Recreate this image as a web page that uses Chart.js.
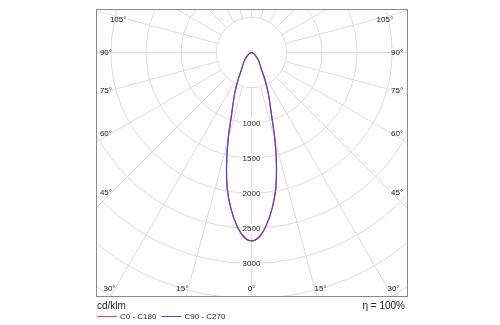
<!DOCTYPE html>
<html>
<head>
<meta charset="utf-8">
<script src="https://cdn.jsdelivr.net/npm/chart.js@4.4.0/dist/chart.umd.min.js"></script>
<style>
  html, body { margin: 0; padding: 0; background: #fff; }
  #wrap { width: 500px; height: 325px; }
</style>
</head>
<body>
<div id="wrap"><canvas id="polarChart" width="500" height="325"></canvas></div>
<script>
// Luminous intensity (cd/klm) by gamma angle, 0° = straight down
const gammaAngles = [0, 2.5, 5, 7.5, 10, 12.5, 15, 17.5, 20, 22.5, 25, 27.5, 30, 35, 40, 45, 50, 55, 60, 65, 70, 75, 80, 85, 90];
const intensityC0C180 = [2680, 2620, 2460, 2240, 1980, 1640, 1290, 960, 760, 620, 490, 380, 290, 210, 160, 120, 85, 60, 40, 25, 15, 8, 4, 2, 0];
const intensityC90C270 = [2680, 2620, 2460, 2240, 1980, 1640, 1290, 960, 760, 620, 490, 380, 290, 210, 160, 120, 85, 60, 40, 25, 15, 8, 4, 2, 0];
const seriesNames = ['C0 - C180', 'C90 - C270'];
const seriesColors = ['#e0485e', '#5646c8'];

// grid rings and labels
const ringValues = [500, 1000, 1500, 2000, 2500, 3000, 3500, 4000, 4500];
const ringLabels = [1000, 1500, 2000, 2500, 3000];
const angleTicks = [0, 15, 30, 45, 60, 75, 90, 105];
const unitText = 'cd/klm';
const efficiencyText = 'η = 100%';

const FONT = '"Liberation Sans", Arial, sans-serif';
const rad = d => d * Math.PI / 180;

// turn a half-plane curve (left side mirrored) into x/y points
function polarToXY(values) {
  const pts = [];
  for (let i = gammaAngles.length - 1; i > 0; i--) {
    const t = rad(gammaAngles[i]);
    pts.push({ x: -values[i] * Math.sin(t), y: -values[i] * Math.cos(t) });
  }
  for (let i = 0; i < gammaAngles.length; i++) {
    const t = rad(gammaAngles[i]);
    pts.push({ x: values[i] * Math.sin(t), y: -values[i] * Math.cos(t) });
  }
  return pts;
}

const polarGrid = {
  id: 'polarGrid',
  beforeDatasetsDraw(chart) {
    const { ctx, chartArea: a, scales: { x, y } } = chart;
    const cx = x.getPixelForValue(0), cy = y.getPixelForValue(0);
    const px = v => x.getPixelForValue(v) - cx;
    const hole = px(ringValues[0]);
    const outer = px(ringValues[ringValues.length - 1]);

    ctx.save();
    ctx.beginPath();
    ctx.rect(a.left, a.top, a.right - a.left, a.bottom - a.top);
    ctx.clip();
    ctx.strokeStyle = '#dcdcdc';
    ctx.lineWidth = 1;
    ringValues.forEach(v => {
      ctx.beginPath();
      ctx.arc(cx, cy, px(v), 0, Math.PI * 2);
      ctx.stroke();
    });
    for (let deg = 0; deg < 360; deg += 15) {
      const dx = Math.sin(rad(deg)), dy = Math.cos(rad(deg));
      ctx.beginPath();
      ctx.moveTo(cx + dx * hole, cy + dy * hole);
      ctx.lineTo(cx + dx * outer, cy + dy * outer);
      ctx.stroke();
    }

    // ring values down the nadir line
    ctx.font = '8px ' + FONT;
    ctx.textAlign = 'center';
    ctx.textBaseline = 'middle';
    ringLabels.forEach(v => {
      const ly = cy + px(v);
      const w = ctx.measureText(String(v)).width;
      ctx.fillStyle = '#fff';
      ctx.fillRect(cx - w / 2 - 1, ly - 5, w + 2, 10);
      ctx.fillStyle = '#222';
      ctx.fillText(String(v), cx, ly + 0.5);
    });

    // angle labels where the spokes reach an inset box
    const box = { l: a.left + 16, r: a.right - 17, t: a.top + 10, b: a.bottom - 9 };
    angleTicks.forEach(deg => {
      [1, -1].forEach(s => {
        if (deg === 0 && s < 0) return;
        const dx = s * Math.sin(rad(deg)), dy = Math.cos(rad(deg));
        let k = Infinity;
        if (dx > 1e-6) k = Math.min(k, (box.r - cx) / dx);
        if (dx < -1e-6) k = Math.min(k, (box.l - cx) / dx);
        if (dy > 1e-6) k = Math.min(k, (box.b - cy) / dy);
        if (dy < -1e-6) k = Math.min(k, (box.t - cy) / dy);
        const lx = cx + dx * k;
        const ly = Math.max(box.t, Math.min(box.b, cy + dy * k));
        ctx.textAlign = deg === 0 ? 'center' : (s > 0 ? 'left' : 'right');
        ctx.fillStyle = '#222';
        ctx.fillText(deg + '°', lx, ly + 0.5);
      });
    });
    ctx.restore();

    ctx.save();
    ctx.strokeStyle = '#8a8a8a';
    ctx.lineWidth = 1;
    ctx.strokeRect(a.left + 0.5, a.top + 0.5, a.right - a.left - 1, a.bottom - a.top - 1);
    ctx.restore();
  },
  afterDraw(chart) {
    const { ctx, chartArea: a } = chart;
    ctx.save();
    ctx.fillStyle = '#222';
    ctx.textBaseline = 'middle';
    ctx.font = '10px ' + FONT;
    ctx.textAlign = 'left';
    ctx.fillText(unitText, a.left + 1, 306);
    ctx.textAlign = 'right';
    ctx.fillText(efficiencyText, a.right - 3, 306);

    ctx.font = '8px ' + FONT;
    ctx.textAlign = 'left';
    let lx = a.left + 1;
    chart.data.datasets.forEach(ds => {
      ctx.strokeStyle = ds.borderColor;
      ctx.lineWidth = 1;
      ctx.beginPath();
      ctx.moveTo(lx, 316.5);
      ctx.lineTo(lx + 20, 316.5);
      ctx.stroke();
      ctx.fillText(ds.label, lx + 23, 317);
      lx += 23 + ctx.measureText(ds.label).width + 5;
    });
    ctx.restore();
  }
};

new Chart(document.getElementById('polarChart'), {
  type: 'scatter',
  data: {
    datasets: [
      // C90 - C270 is drawn over C0 - C180
      { label: seriesNames[0], data: polarToXY(intensityC0C180), borderColor: seriesColors[0], order: 2 },
      { label: seriesNames[1], data: polarToXY(intensityC90C270), borderColor: seriesColors[1], order: 1 }
    ].map(ds => Object.assign(ds, { showLine: true, pointRadius: 0, borderWidth: 1.2, tension: 0.3, fill: false }))
  },
  options: {
    responsive: false,
    animation: false,
    layout: { padding: { left: 96, right: 92, top: 9, bottom: 28 } },
    scales: {
      x: { type: 'linear', display: false, min: -2212, max: 2226 },
      y: { type: 'linear', display: false, min: -3478, max: 619 }
    },
    plugins: { legend: { display: false }, tooltip: { enabled: false } }
  },
  plugins: [polarGrid]
});
</script>
</body>
</html>
